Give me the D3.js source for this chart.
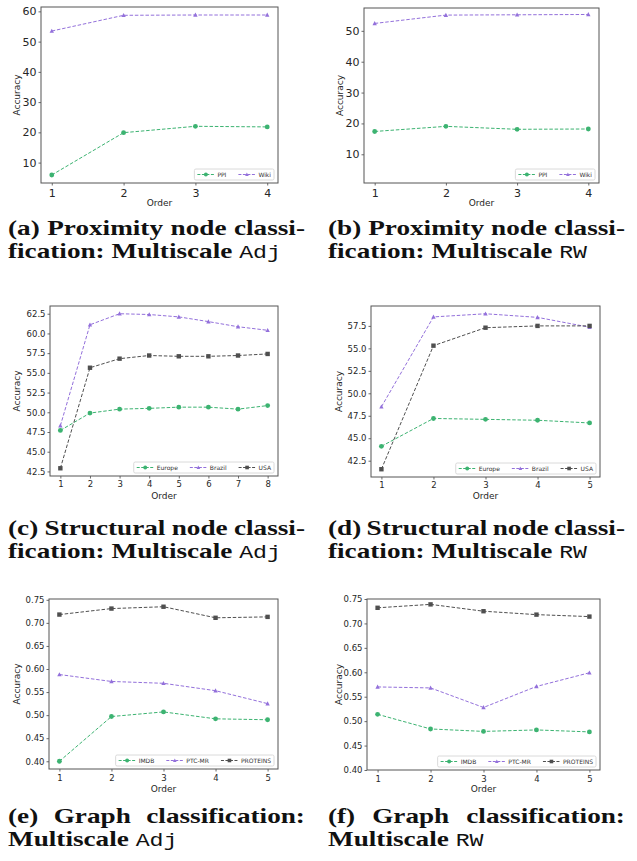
<!DOCTYPE html>
<html>
<head>
<meta charset="utf-8">
<script src="https://cdn.jsdelivr.net/npm/d3@7"></script>
<style>
  body { margin: 0; background: #fff; }
  svg { display: block; }
</style>
</head>
<body>
<div id="chart"></div>
<script>
// x values (order)
const orders4 = [1, 2, 3, 4]
const orders5 = [1, 2, 3, 4, 5]
const orders8 = [1, 2, 3, 4, 5, 6, 7, 8]

// (a) / (b) proximity node classification
const ppiAdj = [5.9, 19.9, 22.0, 21.8]
const wikiAdj = [53.5, 58.7, 58.8, 58.8]
const ppiRW = [17.4, 19.05, 18.1, 18.2]
const wikiRW = [52.4, 55.1, 55.2, 55.3]

// (c) / (d) structural node classification
const europeAdj = [47.7, 49.9, 50.4, 50.5, 50.65, 50.65, 50.4, 50.85]
const brazilAdj = [48.3, 61.1, 62.5, 62.4, 62.1, 61.5, 60.85, 60.4]
const usaAdj = [42.9, 55.65, 56.8, 57.2, 57.1, 57.1, 57.2, 57.4]
const europeRW = [44.1, 47.2, 47.1, 47.0, 46.7]
const brazilRW = [48.5, 58.5, 58.85, 58.45, 57.35]
const usaRW = [41.55, 55.3, 57.3, 57.5, 57.5]

// (e) / (f) graph classification
const imdbAdj = [0.400, 0.497, 0.507, 0.492, 0.490]
const ptcAdj = [0.588, 0.573, 0.569, 0.553, 0.525]
const proteinsAdj = [0.718, 0.731, 0.735, 0.711, 0.713]
const imdbRW = [0.514, 0.484, 0.479, 0.482, 0.478]
const ptcRW = [0.570, 0.568, 0.528, 0.571, 0.599]
const proteinsRW = [0.732, 0.739, 0.725, 0.718, 0.714]

// tick labels
const proxTicksAdj = [10, 20, 30, 40, 50, 60]
const proxTicksRW = [10, 20, 30, 40, 50]
const structTicksAdj = [42.5, 45, 47.5, 50, 52.5, 55, 57.5, 60, 62.5]
const structTicksRW = [42.5, 45, 47.5, 50, 52.5, 55, 57.5]
const graphTicks = [0.40, 0.45, 0.50, 0.55, 0.60, 0.65, 0.70, 0.75]

// fixed y limits where the plot did not autoscale
const ylimRW = [0.7, 57.4]
const ylimGraphRW = [0.40, 0.75]

const colors = { circle: 'mediumseagreen', triangle: 'mediumpurple', square: '#4f4f4f' }

const W = 637, H = 861

const svg = d3.select('#chart')
  .append('svg')
  .attr('width', W)
  .attr('height', H)

const panels = [
  { box: [41, 278, 7, 183], x: orders4, ticks: proxTicksAdj, fmt: d3.format('d'), tickFont: 11,
    ylabelX: 17, tickY: 193, labelY: 203,
    series: [['PPI', ppiAdj, 'circle'], ['Wiki', wikiAdj, 'triangle']] },
  { box: [364, 599, 8, 183], x: orders4, ticks: proxTicksRW, fmt: d3.format('d'), tickFont: 11, ylim: ylimRW,
    ylabelX: 340, tickY: 193, labelY: 203,
    series: [['PPI', ppiRW, 'circle'], ['Wiki', wikiRW, 'triangle']] },
  { box: [50, 278, 306, 476], x: orders8, ticks: structTicksAdj, fmt: d3.format('.1f'), tickFont: 8.5,
    ylabelX: 17, tickY: 484, labelY: 496,
    series: [['Europe', europeAdj, 'circle'], ['Brazil', brazilAdj, 'triangle'], ['USA', usaAdj, 'square']] },
  { box: [371, 600, 306, 477], x: orders5, ticks: structTicksRW, fmt: d3.format('.1f'), tickFont: 8.5,
    ylabelX: 339, tickY: 485, labelY: 496,
    series: [['Europe', europeRW, 'circle'], ['Brazil', brazilRW, 'triangle'], ['USA', usaRW, 'square']] },
  { box: [49, 278, 599, 769], x: orders5, ticks: graphTicks, fmt: d3.format('.2f'), tickFont: 8.5,
    ylabelX: 17, tickY: 778, labelY: 789,
    series: [['IMDB', imdbAdj, 'circle'], ['PTC-MR', ptcAdj, 'triangle'], ['PROTEINS', proteinsAdj, 'square']] },
  { box: [367, 600, 599, 770], x: orders5, ticks: graphTicks, fmt: d3.format('.2f'), tickFont: 8.5, ylim: ylimGraphRW,
    ylabelX: 339, tickY: 779, labelY: 789,
    series: [['IMDB', imdbRW, 'circle'], ['PTC-MR', ptcRW, 'triangle'], ['PROTEINS', proteinsRW, 'square']] },
]

function marker(sel, kind, size) {
  if (kind === 'circle') return sel.append('circle').attr('r', size * 0.55)
  if (kind === 'square') return sel.append('rect')
    .attr('x', -size / 2).attr('y', -size / 2).attr('width', size).attr('height', size)
  const h = size * 0.9
  return sel.append('path').attr('d', `M0,${-h * 0.6}L${h * 0.55},${h * 0.45}L${-h * 0.55},${h * 0.45}Z`)
}

panels.forEach(p => {
  const [x0, x1, y0, y1] = p.box
  const n = p.x.length
  const pad = 0.05 * (n - 1)
  const x = d3.scaleLinear().domain([1 - pad, n + pad]).range([x0, x1])

  let ydom = p.ylim
  if (!ydom) {
    const all = p.series.flatMap(s => s[1])
    const [lo, hi] = d3.extent(all)
    const m = 0.05 * (hi - lo)
    ydom = [lo - m, hi + m]
  }
  const y = d3.scaleLinear().domain(ydom).range([y1, y0])

  const g = svg.append('g')

  // axes
  const ax = g.append('g')
    .attr('transform', `translate(0,${y1})`)
    .call(d3.axisBottom(x).tickValues(p.x).tickFormat(d3.format('d')).tickSize(2.5).tickPadding(2))
  ax.selectAll('text').attr('y', p.tickY - y1 - p.tickFont * 0.35).attr('dy', '0.71em')
  const ay = g.append('g')
    .attr('transform', `translate(${x0},0)`)
    .call(d3.axisLeft(y).tickValues(p.ticks).tickFormat(p.fmt).tickSize(2.5).tickPadding(2))
  ;[ax, ay].forEach(a => {
    a.select('.domain').remove()
    a.selectAll('line').attr('stroke', '#444').attr('stroke-width', 0.8)
    a.selectAll('text').attr('fill', '#262626')
      .style('font-family', 'DejaVu Sans').style('font-size', p.tickFont + 'px')
  })

  // series
  p.series.forEach(([name, values, kind]) => {
    const pts = values.map((v, i) => [x(p.x[i]), y(v)])
    g.append('path')
      .attr('d', d3.line()(pts))
      .attr('fill', 'none')
      .attr('stroke', colors[kind])
      .attr('stroke-width', 1)
      .attr('stroke-dasharray', '3.5,1.8')
    g.selectAll(null)
      .data(pts)
      .enter()
      .append('g')
      .attr('transform', d => `translate(${d[0]},${d[1]})`)
      .each(function() { marker(d3.select(this), kind, 4.4).attr('fill', colors[kind]) })
  })

  // frame
  g.append('rect')
    .attr('x', x0).attr('y', y0).attr('width', x1 - x0).attr('height', y1 - y0)
    .attr('fill', 'none').attr('stroke', '#555').attr('stroke-width', 1)

  // axis labels
  g.append('text')
    .attr('x', (x0 + x1) / 2).attr('y', p.labelY).attr('dy', '0.35em')
    .attr('text-anchor', 'middle')
    .style('font-family', 'DejaVu Sans').style('font-size', '9px').attr('fill', '#262626')
    .text('Order')
  g.append('text')
    .attr('transform', `translate(${p.ylabelX},${(y0 + y1) / 2}) rotate(-90)`)
    .attr('dy', '0.35em')
    .attr('text-anchor', 'middle')
    .style('font-family', 'DejaVu Sans').style('font-size', '9px').attr('fill', '#262626')
    .text('Accuracy')

  // legend (lower right)
  const lf = 6, hl = 17, lpad = 3, colGap = 12, lh = 11
  const lg = g.append('g')
  const items = p.series.map(([name, , kind]) => {
    const t = lg.append('text').text(name)
      .style('font-family', 'DejaVu Sans').style('font-size', lf + 'px').attr('fill', '#333')
    return { kind, t, w: t.node().getComputedTextLength() }
  })
  const lw = lpad * 2 + d3.sum(items, d => hl + 3 + d.w) + colGap * (items.length - 1)
  const lx = x1 - 4 - lw, ly = y1 - 3 - lh
  lg.insert('rect', 'text')
    .attr('x', lx).attr('y', ly).attr('width', lw).attr('height', lh)
    .attr('rx', 1.5).attr('fill', '#fff').attr('fill-opacity', 0.85)
    .attr('stroke', '#d0d0d0').attr('stroke-width', 0.8)
  let cx = lx + lpad
  const cy = ly + lh / 2
  items.forEach(it => {
    lg.append('line')
      .attr('x1', cx).attr('x2', cx + hl).attr('y1', cy).attr('y2', cy)
      .attr('stroke', colors[it.kind]).attr('stroke-width', 1).attr('stroke-dasharray', '3,1.5')
    marker(lg.append('g').attr('transform', `translate(${cx + hl / 2},${cy})`), it.kind, 3.6)
      .attr('fill', colors[it.kind])
    it.t.attr('x', cx + hl + 3).attr('y', cy).attr('dy', '0.35em')
    cx += hl + 3 + it.w + colGap
  })
})

// captions: Liberation Serif bold, stretched horizontally (like an extended bold face)
// so that the first caption line fills its column
const capFont = 'Liberation Serif', capSize = 20.5
const probeText = '(a) Proximity node classi-'
const probe = svg.append('text').text(probeText)
  .style('font-family', capFont).style('font-weight', 'bold').style('font-size', capSize + 'px')
const sx = 295 / probe.node().getComputedTextLength()
probe.remove()

function caption(xa, xb, base, first, second, mono) {
  const g = svg.append('g')
  const words = first.split(' ')
  const ts = words.map(w => g.append('text').text(w)
    .style('font-family', capFont).style('font-weight', 'bold').style('font-size', capSize + 'px')
    .attr('fill', '#111'))
  const ws = ts.map(t => t.node().getComputedTextLength() * sx)
  const gap = (xb - xa - d3.sum(ws)) / (words.length - 1)
  let cx = xa
  ts.forEach((t, i) => {
    t.attr('transform', `translate(${cx},${base}) scale(${sx},1)`)
    cx += ws[i] + gap
  })

  const t2 = g.append('text')
    .attr('transform', `translate(${xa},${base + 23}) scale(${sx},1)`)
    .attr('fill', '#111')
  t2.append('tspan').text(second)
    .style('font-family', capFont).style('font-weight', 'bold').style('font-size', capSize + 'px')
  t2.append('tspan').text(mono)
    .style('font-family', 'Liberation Mono').style('font-size', capSize - 3 + 'px')
}

caption(8, 305, 235, '(a) Proximity node classi-', 'fication: Multiscale ', 'Adj')
caption(328, 625, 235, '(b) Proximity node classi-', 'fication: Multiscale ', 'RW')
caption(8, 305, 535, '(c) Structural node classi-', 'fication: Multiscale ', 'Adj')
caption(328, 625, 535, '(d) Structural node classi-', 'fication: Multiscale ', 'RW')
caption(8, 305, 823, '(e) Graph classification:', 'Multiscale ', 'Adj')
caption(328, 625, 823, '(f) Graph classification:', 'Multiscale ', 'RW')
</script>
</body>
</html>
